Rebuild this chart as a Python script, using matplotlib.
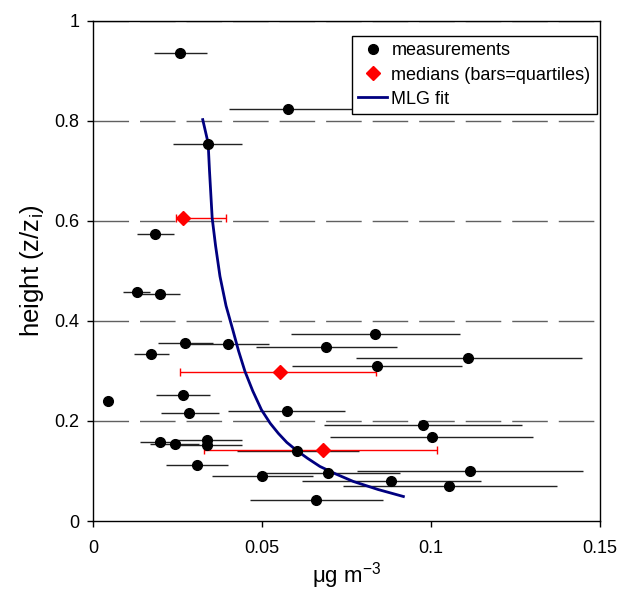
import numpy as np
import matplotlib
matplotlib.use('Agg')
import matplotlib.pyplot as plt

plt.rcParams['font.family'] = ['Liberation Sans', 'DejaVu Sans']

# measurements: value, height, lower / upper end of bar
meas_x = [0.0258, 0.0575, 0.0339, 0.0183, 0.0129, 0.0197, 0.0834, 0.0271,
          0.0400, 0.0690, 0.0171, 0.1110, 0.0840, 0.0043, 0.0266, 0.0284,
          0.0572, 0.0975, 0.1002, 0.0197, 0.0241, 0.0338, 0.0338, 0.0604,
          0.0306, 0.0499, 0.0696, 0.1116, 0.0881, 0.1054, 0.0660]
meas_z = [0.936, 0.824, 0.754, 0.573, 0.457, 0.454, 0.373, 0.356,
          0.354, 0.348, 0.334, 0.325, 0.309, 0.239, 0.251, 0.215,
          0.220, 0.191, 0.167, 0.157, 0.153, 0.162, 0.152, 0.140,
          0.111, 0.089, 0.096, 0.100, 0.079, 0.070, 0.043]
meas_lo = [0.0180, 0.0402, 0.0237, 0.0128, 0.0089, 0.0136, 0.0584, 0.0191,
           0.0280, 0.0482, 0.0120, 0.0777, 0.0588, 0.0032, 0.0186, 0.0200,
           0.0400, 0.0684, 0.0701, 0.0138, 0.0168, 0.0237, 0.0237, 0.0424,
           0.0215, 0.0350, 0.0488, 0.0780, 0.0617, 0.0740, 0.0464]
meas_hi = [0.0336, 0.0770, 0.0441, 0.0239, 0.0168, 0.0257, 0.1086, 0.0353,
           0.0520, 0.0898, 0.0224, 0.1446, 0.1092, 0.0054, 0.0345, 0.0371,
           0.0745, 0.1268, 0.1303, 0.0256, 0.0313, 0.0439, 0.0439, 0.0787,
           0.0400, 0.0650, 0.0908, 0.1450, 0.1147, 0.1372, 0.0858]

# medians with quartiles
med_x = [0.0266, 0.0553, 0.0679]
med_z = [0.605, 0.298, 0.142]
med_lo = [0.0245, 0.0257, 0.0329]
med_hi = [0.0394, 0.0836, 0.1017]

# MLG fit
fit_x = [0.0324, 0.0340, 0.0344, 0.0352, 0.0362, 0.0375, 0.0393, 0.0413,
         0.0430, 0.0449, 0.0472, 0.0498, 0.0524, 0.0548, 0.0573, 0.0602,
         0.0635, 0.0671, 0.0718, 0.0770, 0.0843, 0.0918]
fit_z = [0.802, 0.755, 0.700, 0.605, 0.550, 0.489, 0.430, 0.382,
         0.340, 0.299, 0.260, 0.222, 0.195, 0.175, 0.157, 0.141,
         0.125, 0.109, 0.094, 0.079, 0.063, 0.049]

xticks = [0, 0.05, 0.1, 0.15]
xtick_labels = ['0', '0.05', '0.1', '0.15']
yticks = [0, 0.2, 0.4, 0.6, 0.8, 1.0]
ytick_labels = ['0', '0.2', '0.4', '0.6', '0.8', '1']

fig = plt.figure(figsize=(6.17, 5.91), dpi=100)
ax = fig.add_axes([0.1512, 0.1184, 0.8212, 0.8469])

for yv in yticks[1:]:
    ax.axhline(yv, color='#606060', lw=1.0, ls=(0, (25.6, 7.9)), zorder=1)

mx = np.array(meas_x)
ax.errorbar(mx, meas_z, xerr=[mx - np.array(meas_lo), np.array(meas_hi) - mx],
            fmt='none', ecolor='#222222', elinewidth=1.0, capsize=0, zorder=2)
dx = np.array(med_x)
ax.errorbar(dx, med_z, xerr=[dx - np.array(med_lo), np.array(med_hi) - dx],
            fmt='none', ecolor='red', elinewidth=1.0, capsize=3, capthick=1.0, zorder=3)

ax.plot(fit_x, fit_z, color='#000080', lw=2.0, zorder=4, label='MLG fit')
ax.plot(meas_x, meas_z, 'o', color='black', ms=7, zorder=5, label='measurements')
ax.plot(med_x, med_z, 'D', color='red', ms=7, zorder=6, label='medians (bars=quartiles)')

ax.set_xlim(0, 0.15)
ax.set_ylim(0, 1)
ax.set_xticks(xticks)
ax.set_xticklabels(xtick_labels)
ax.set_yticks(yticks)
ax.set_yticklabels(ytick_labels)
ax.tick_params(direction='out', length=4, width=1, labelsize=13)
ax.tick_params(axis='x', pad=10)
ax.tick_params(axis='y', pad=6)
for s in ax.spines.values():
    s.set_linewidth(1.0)
    s.set_color('black')

ax.set_xlabel('\u03bcg m$^{\\mathregular{-3}}$', fontsize=16, labelpad=2)
ax.set_ylabel('height (z/z$_{\\mathregular{i}}$)', fontsize=18.5, labelpad=6)

h, l = ax.get_legend_handles_labels()
order = [1, 2, 0]
leg = ax.legend([h[i] for i in order], [l[i] for i in order], loc='upper right',
                bbox_to_anchor=(0.994, 0.969), borderaxespad=0, fontsize=13,
                frameon=True, fancybox=False, edgecolor='black', framealpha=1,
                handlelength=1.6, handletextpad=0.25, borderpad=0.35, labelspacing=0.4)
leg.get_frame().set_linewidth(1.0)
leg.set_zorder(10)

fig.savefig('out.png', dpi=100)
